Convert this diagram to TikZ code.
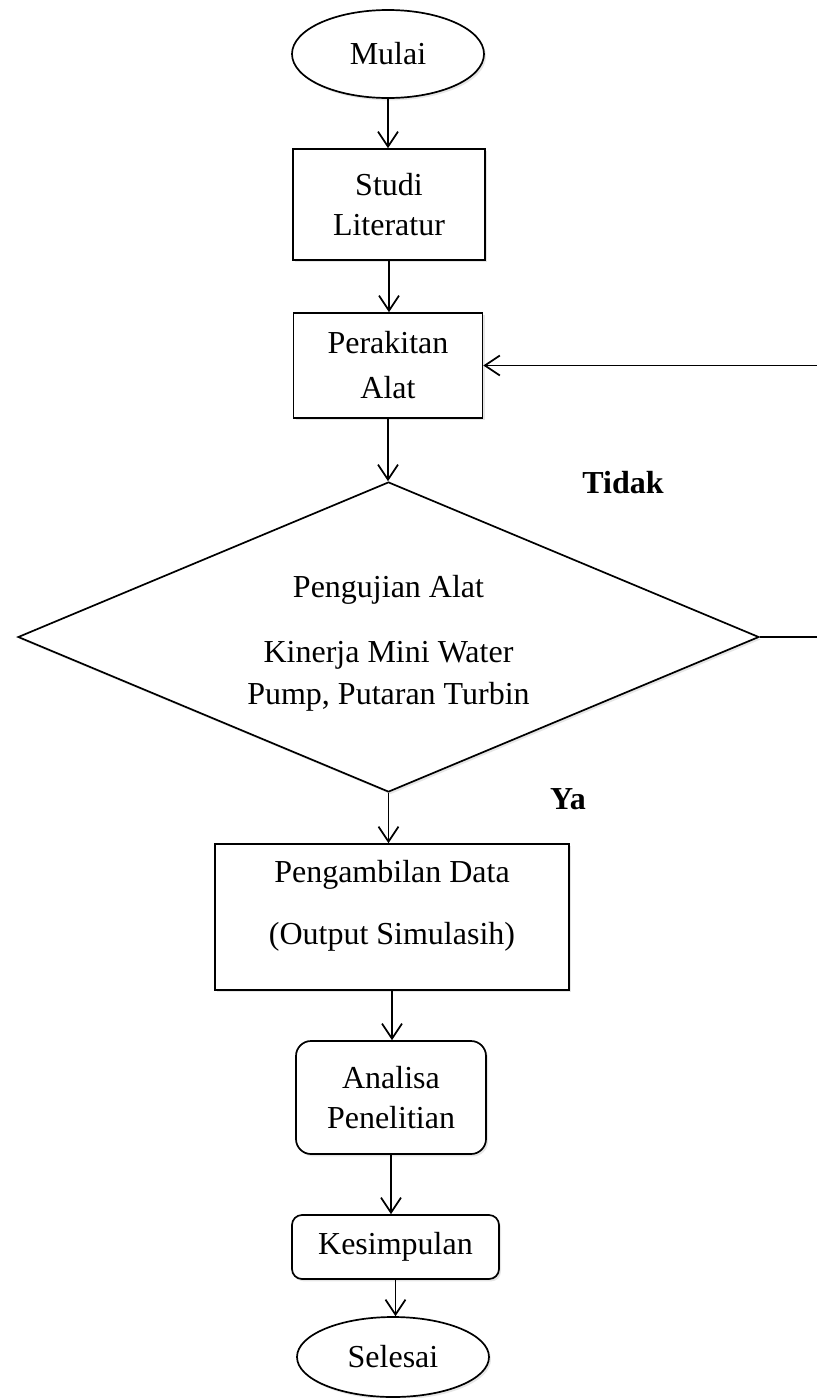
\documentclass[tikz,border=0pt]{standalone}
\usepackage{fontspec}
\setmainfont{Liberation Serif}
\usetikzlibrary{shapes.geometric,arrows.meta,shadows}

\begin{document}
\begin{tikzpicture}[x=0.5pt, y=-0.5pt, line width=0.85pt,
    every node/.style={font=\fontsize{16}{20}\selectfont, align=center},
    bayang/.style={drop shadow={shadow xshift=1pt, shadow yshift=-1.2pt, opacity=.2}},
    terminal/.style={ellipse, draw, fill=white, inner sep=0pt, bayang},
    proses/.style={rectangle, draw, fill=white, inner sep=0pt, bayang},
    bulat/.style={rectangle, rounded corners=5pt, draw, fill=white, inner sep=0pt, bayang},
    keputusan/.style={diamond, draw, fill=white, inner sep=0pt, bayang},
    ket/.style={font=\fontsize{16}{20}\selectfont\bfseries},
    panah/.style={-{Straight Barb[length=7.5pt, width=10pt]}}]
    \useasboundingbox (0,0) rectangle (817,1398);
    \node[terminal, minimum width=96pt, minimum height=44pt] (mulai) at (388,54) {Mulai};
    \node[proses, minimum width=96pt, minimum height=55.5pt] (studi) at (389,204.5) {Studi\\Literatur};
    \node[proses, minimum width=94.5pt, minimum height=52.5pt] (rakit) at (388,365.5) {Perakitan\\[2.5pt]Alat};
    \node[keputusan, minimum width=370.5pt, minimum height=155pt] (uji) at (388.5,637) {};
    \node (ujiteks) at (388.5,643) {Pengujian Alat\\[12.5pt]Kinerja Mini Water\\[1pt]Pump, Putaran Turbin};
    \node[proses, minimum width=177pt, minimum height=73pt] (data) at (392,917) {};
    \node (datateks) at (392,906) {Pengambilan Data\\[11pt](Output Simulasih)};
    \node[bulat, rounded corners=7.5pt, minimum width=95pt, minimum height=56.5pt] (analisa) at (391,1097.5) {Analisa\\Penelitian};
    \node[bulat, minimum width=103.5pt, minimum height=32pt] (simpul) at (395.5,1247) {Kesimpulan};
    \node[terminal, minimum width=96pt, minimum height=40pt] (selesai) at (393,1357) {Selesai};
    \node[ket] (tidak) at (623,483) {Tidak};
    \node[ket] (ya) at (568,799) {Ya};

    % alur utama
    \foreach \a/\b in {mulai/studi, studi/rakit, rakit/uji, uji/data, data/analisa, analisa/simpul, simpul/selesai}
        \draw[panah] (\a.south) -- (\a.south |- \b.north);

    % kembali ke perakitan
    \coordinate (balik) at (819,637);
    \draw[panah] (uji.east) -- (balik) |- (rakit.east);
\end{tikzpicture}
\end{document}
